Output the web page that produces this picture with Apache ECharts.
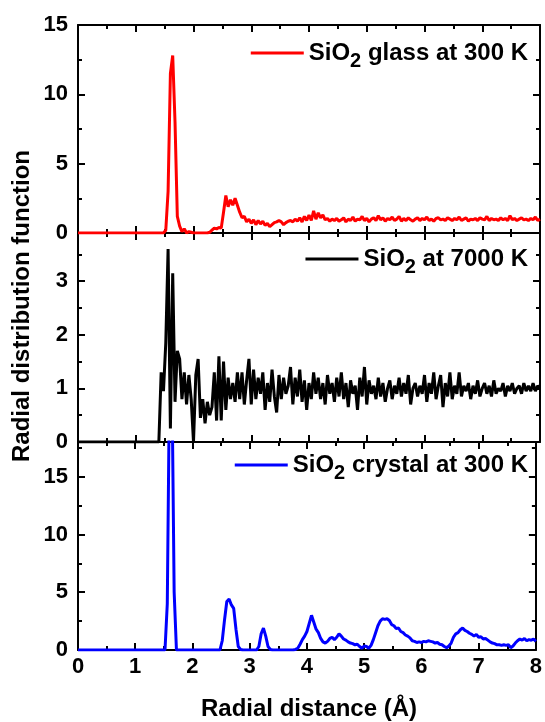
<!DOCTYPE html>
<html>
<head>
<meta charset="utf-8">
<script src="https://cdn.jsdelivr.net/npm/echarts@6/dist/echarts.min.js"></script>
<style>
  html, body { margin: 0; padding: 0; background: #fff; }
  #chart { width: 545px; height: 722px; }
</style>
</head>
<body>
<div id="chart"></div>
<script>
// radial distance grid (Å), shared by the three curves
var radius = [
  0,0.04,0.08,0.12,0.16,0.2,0.24,0.28,0.32,0.36,
  0.4,0.44,0.48,0.52,0.56,0.6,0.64,0.68,0.72,0.76,
  0.8,0.84,0.88,0.92,0.96,1,1.04,1.08,1.12,1.16,
  1.2,1.24,1.28,1.32,1.36,1.4,1.44,1.48,1.52,1.56,
  1.6,1.64,1.68,1.72,1.76,1.8,1.84,1.88,1.92,1.96,
  2,2.04,2.08,2.12,2.16,2.2,2.24,2.28,2.32,2.36,
  2.4,2.44,2.48,2.52,2.56,2.6,2.64,2.68,2.72,2.76,
  2.8,2.84,2.88,2.92,2.96,3,3.04,3.08,3.12,3.16,
  3.2,3.24,3.28,3.32,3.36,3.4,3.44,3.48,3.52,3.56,
  3.6,3.64,3.68,3.72,3.76,3.8,3.84,3.88,3.92,3.96,
  4,4.04,4.08,4.12,4.16,4.2,4.24,4.28,4.32,4.36,
  4.4,4.44,4.48,4.52,4.56,4.6,4.64,4.68,4.72,4.76,
  4.8,4.84,4.88,4.92,4.96,5,5.04,5.08,5.12,5.16,
  5.2,5.24,5.28,5.32,5.36,5.4,5.44,5.48,5.52,5.56,
  5.6,5.64,5.68,5.72,5.76,5.8,5.84,5.88,5.92,5.96,
  6,6.04,6.08,6.12,6.16,6.2,6.24,6.28,6.32,6.36,
  6.4,6.44,6.48,6.52,6.56,6.6,6.64,6.68,6.72,6.76,
  6.8,6.84,6.88,6.92,6.96,7,7.04,7.08,7.12,7.16,
  7.2,7.24,7.28,7.32,7.36,7.4,7.44,7.48,7.52,7.56,
  7.6,7.64,7.68,7.72,7.76,7.8,7.84,7.88,7.92,7.96,
  8
];

// SiO2 glass at 300 K
var glass300 = [
  0,0,0,0,0,0,0,0,0,0,
  0,0,0,0,0,0,0,0,0,0,
  0,0,0,0,0,0,0,0,0,0,
  0,0,0,0,0,0,0,0,0.2,3.0,
  11.5,12.8,8.0,1.2,0.5,0.1,0.3,0,0.1,0.05,
  0,0,0,0,0,0,0,0.05,0.2,0.35,
  0.3,0.4,0.35,1.5,2.7,1.9,2.4,2.0,2.5,2.0,
  1.5,1.1,1.2,0.8,1.0,0.7,0.95,0.6,0.9,0.65,
  0.85,0.55,0.7,0.45,0.6,0.75,0.8,0.9,0.8,0.6,
  0.75,0.85,0.9,0.8,1.0,0.85,1.1,0.8,1.2,0.9,
  1.3,0.9,1.6,1.0,1.45,1.1,1.3,0.95,1.05,0.85,
  1.0,0.9,1.05,0.85,0.95,1.1,0.8,1.0,0.9,1.15,
  0.85,1.0,0.95,1.2,0.9,1.05,0.8,1.0,1.1,0.9,
  1.25,0.95,1.1,0.85,1.05,0.95,1.15,0.9,1.0,1.2,
  0.85,1.05,0.9,1.1,0.95,0.85,1.0,1.1,0.9,1.05,
  0.95,1.15,0.9,1.0,0.85,1.05,1.1,0.95,1.0,0.9,
  1.1,1.0,0.9,1.05,0.95,1.15,0.9,1.0,1.1,0.85,
  1.0,0.95,1.05,0.9,1.1,1.0,0.95,1.2,0.9,1.05,
  0.95,1.0,0.9,1.1,0.95,1.05,0.9,1.25,0.95,1.05,
  0.9,1.0,1.1,0.95,1.0,0.9,1.05,0.95,1.15,0.9,
  1.0
];

// SiO2 at 7000 K
var melt7000 = [
  0,0,0,0,0,0,0,0,0,0,
  0,0,0,0,0,0,0,0,0,0,
  0,0,0,0,0,0,0,0,0,0,
  0,0,0,0,0,0,1.3,0.95,1.85,3.6,
  0.25,3.15,0.75,1.7,1.55,0.8,1.3,0.7,1.25,0.8,
  0,1.25,1.55,0.45,0.8,0.35,0.75,0.5,0.65,1.3,
  0.4,1.6,0.4,1.5,0.6,1.2,0.8,1.1,0.75,1.3,
  0.8,1.3,0.7,1.15,1.55,0.7,1.35,0.8,1.2,0.9,
  1.3,0.6,1.1,0.75,1.35,0.85,0.55,1.25,0.8,1.2,
  0.9,1.05,1.4,0.7,1.2,0.85,1.35,0.75,1.15,0.6,
  1.1,0.8,1.3,0.9,1.2,0.8,1.1,0.7,1.25,0.9,
  1.1,0.75,1.2,0.85,1.3,0.8,1.1,0.65,1.15,0.9,
  1.05,0.6,1.2,0.85,1.4,0.7,1.15,0.9,1.05,0.8,
  1.2,0.85,1.1,0.75,1.0,1.15,0.8,1.05,0.9,1.2,
  0.85,1.1,0.9,1.25,0.7,1.0,1.1,0.85,1.05,0.9,
  1.25,0.75,1.1,0.9,1.3,0.8,1.05,1.25,0.65,1.1,
  0.85,1.3,0.8,1.05,0.9,1.3,0.85,1.05,0.95,1.1,
  0.8,1.05,0.9,1.15,0.85,1.0,1.1,0.9,1.05,0.85,
  1.15,0.9,1.0,0.95,1.1,0.85,1.05,0.95,1.1,0.9,
  1.0,1.05,0.9,1.1,0.95,1.05,0.95,1.1,0.95,1.05,
  1.0
];

// SiO2 crystal at 300 K
var crystal300 = [
  0,0,0,0,0,0,0,0,0,0,
  0,0,0,0,0,0,0,0,0,0,
  0,0,0,0,0,0,0,0,0,0,
  0,0,0,0,0,0,0,0,0,4,
  24,24,5,0,0,0,0,0,0,0,
  0,0,0,0,0,0,0,0,0,0,
  0,0,0,0.8,2.6,4.2,4.4,3.9,3.6,1.8,
  0.3,0.05,0,0,0,0,0,0,0,0.3,
  1.4,1.9,1.2,0.3,0.05,0,0,0,0,0,
  0,0,0,0,0,0.05,0.15,0.5,0.9,1.2,
  1.6,2.3,3.0,2.4,1.8,1.5,1.0,0.7,0.6,0.75,
  1.0,1.1,0.9,1.1,1.4,1.2,0.95,0.85,0.7,0.6,
  0.55,0.45,0.5,0.3,0.15,0.35,0.3,0.15,0.4,0.9,
  1.5,2.1,2.5,2.7,2.65,2.7,2.55,2.2,2.1,1.85,
  1.9,1.6,1.5,1.3,1.2,1.05,0.8,0.75,0.65,0.7,
  0.65,0.75,0.7,0.8,0.75,0.7,0.6,0.65,0.5,0.45,
  0.3,0.2,0.35,0.6,1.1,1.4,1.5,1.75,1.9,1.7,
  1.6,1.45,1.35,1.2,1.35,1.1,1.15,0.95,1.0,0.85,
  0.7,0.6,0.55,0.45,0.45,0.4,0.45,0.4,0.45,0.2,
  0.35,0.6,0.8,0.95,0.85,1.0,0.8,0.9,0.85,0.95,
  0.75
];

var seriesNames = ['SiO2 glass at 300 K', 'SiO2 at 7000 K', 'SiO2 crystal at 300 K'];
var legendText = [
  '{n|SiO}{s|2}{n| glass at 300 K}',
  '{n|SiO}{s|2}{n| at 7000 K}',
  '{n|SiO}{s|2}{n| crystal at 300 K}'
];
var seriesValues = [glass300, melt7000, crystal300];
var lineColors = ['#ff0000', '#000000', '#0000ff'];
var yMax = [15, 3.9, 18];
var yInterval = [5, 1, 5];

var FONT = '"Liberation Sans", Arial, sans-serif';
var panelTop = [25, 233, 442];
var panelHeight = [208, 209, 208];
var legendTop = [36, 242, 448];

function pairs(ys) {
  var out = [];
  for (var i = 0; i < radius.length; i++) out.push([radius[i], ys[i]]);
  return out;
}

var grids = [], xAxes = [], yAxes = [], series = [], legends = [];
for (var g = 0; g < 3; g++) {
  grids.push({ left: 78, right: 5, top: panelTop[g], height: panelHeight[g] });

  var tickStyle = { color: '#000', width: 2 };
  var baseX = {
    type: 'value', gridIndex: g, min: 0, max: 8, interval: 1,
    axisLine: { show: true, onZero: false, lineStyle: { color: '#000', width: 2 } },
    axisTick: { show: true, inside: true, length: 7, lineStyle: tickStyle },
    minorTick: { show: true, splitNumber: 2, length: 4, lineStyle: tickStyle },
    splitLine: { show: false }
  };
  xAxes.push(Object.assign({}, baseX, {
    position: 'bottom',
    axisLabel: {
      show: g === 2, color: '#000', fontSize: 22, fontWeight: 'bold',
      fontFamily: FONT, margin: 6
    }
  }));
  xAxes.push(Object.assign({}, baseX, { position: 'top', axisLabel: { show: false } }));

  var baseY = {
    type: 'value', gridIndex: g, min: 0, max: yMax[g], interval: yInterval[g],
    axisLine: { show: true, onZero: false, lineStyle: { color: '#000', width: 2 } },
    axisTick: { show: true, inside: true, length: 7, lineStyle: tickStyle },
    minorTick: { show: true, splitNumber: 2, length: 4, lineStyle: tickStyle },
    splitLine: { show: false }
  };
  yAxes.push(Object.assign({}, baseY, {
    position: 'left',
    axisLabel: {
      color: '#000', fontSize: 22, fontWeight: 'bold', fontFamily: FONT,
      margin: 10, showMaxLabel: g === 0
    }
  }));
  yAxes.push(Object.assign({}, baseY, { position: 'right', axisLabel: { show: false } }));

  series.push({
    name: seriesNames[g], type: 'line',
    xAxisIndex: g * 2, yAxisIndex: g * 2,
    data: pairs(seriesValues[g]),
    showSymbol: false, symbol: 'none',
    lineStyle: { color: lineColors[g], width: 3 },
    itemStyle: { color: lineColors[g] },
    clip: true
  });

  legends.push({
    data: [seriesNames[g]],
    right: 12, top: legendTop[g],
    icon: 'rect', itemWidth: 53, itemHeight: 3,
    formatter: (function (k) { return function () { return legendText[k]; }; })(g),
    textStyle: {
      rich: {
        n: { fontSize: 24, fontWeight: 'bold', fontFamily: FONT, color: '#000' },
        s: { fontSize: 20, fontWeight: 'bold', fontFamily: FONT, color: '#000', padding: [17, 0, 0, 0] }
      }
    }
  });
}

var myChart = echarts.init(document.getElementById('chart'), null, { renderer: 'canvas' });
myChart.setOption({
  animation: false,
  backgroundColor: '#fff',
  grid: grids,
  xAxis: xAxes,
  yAxis: yAxes,
  legend: legends,
  series: series,
  graphic: [
    {
      type: 'text', x: 22, y: 306, rotation: Math.PI / 2,
      style: {
        text: 'Radial distribution function', fill: '#000',
        font: 'bold 24px ' + FONT, align: 'center', verticalAlign: 'middle'
      }
    },
    {
      type: 'text', x: 309, y: 709,
      style: {
        text: 'Radial distance (Å)', fill: '#000',
        font: 'bold 24px ' + FONT, align: 'center', verticalAlign: 'middle'
      }
    }
  ]
});
</script>
</body>
</html>
